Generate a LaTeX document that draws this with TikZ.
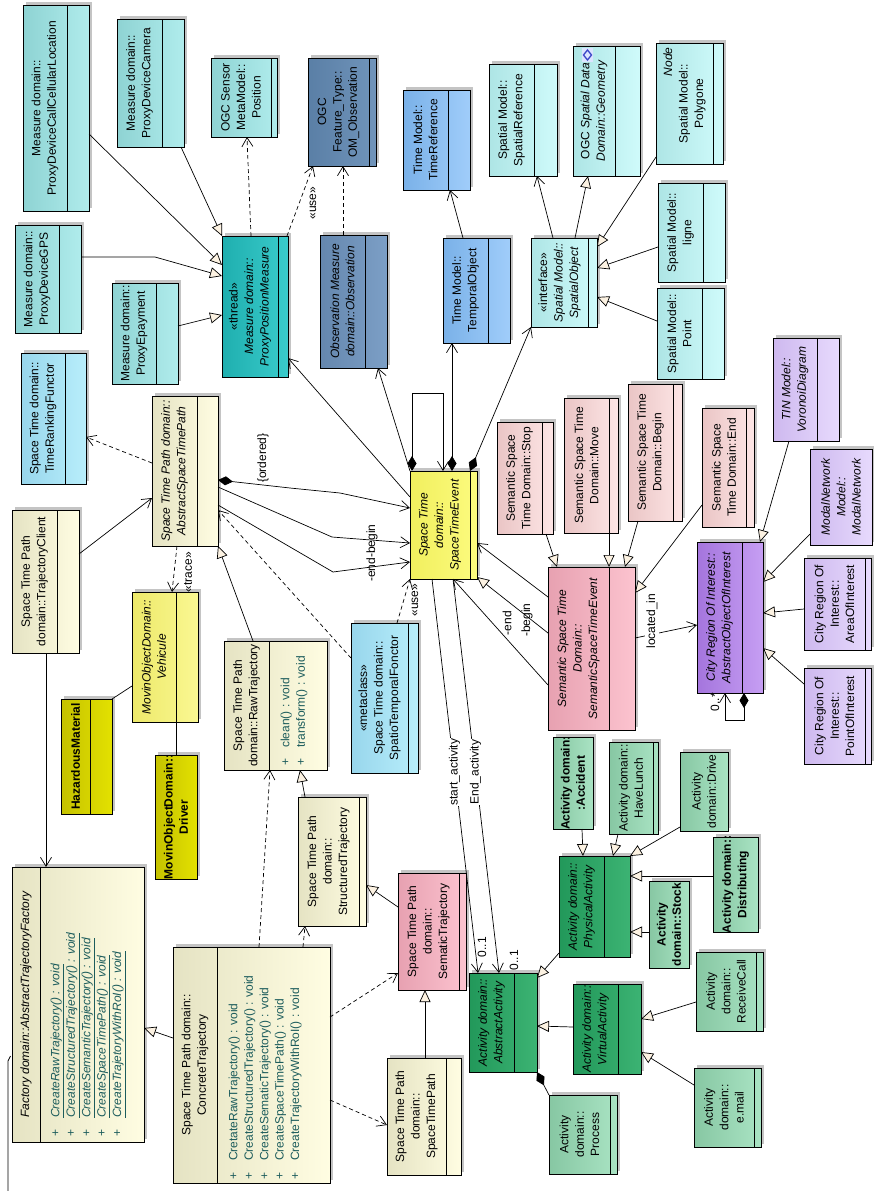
\documentclass[tikz,border=0pt]{standalone}
\usepackage{fontspec}
\setmainfont{Liberation Sans}
\usetikzlibrary{arrows.meta,fit}

\definecolor{measureA}{HTML}{8ED3D3}\definecolor{measureB}{HTML}{B0ECEC}
\definecolor{threadA}{HTML}{1FAFAF}\definecolor{threadB}{HTML}{3ACBCB}
\definecolor{ogcA}{HTML}{5A7FA6}\definecolor{ogcB}{HTML}{7094BA}
\definecolor{obsA}{HTML}{6587AE}\definecolor{obsB}{HTML}{7C9FC6}
\definecolor{timeA}{HTML}{7AB1E8}\definecolor{timeB}{HTML}{A0CDFA}
\definecolor{spatA}{HTML}{AEE5E5}\definecolor{spatB}{HTML}{CFFBFB}
\definecolor{lblueA}{HTML}{98D6EC}\definecolor{lblueB}{HTML}{B8EEFB}
\definecolor{creamA}{HTML}{E5E3C3}\definecolor{creamB}{HTML}{FFFDE2}
\definecolor{vehA}{HTML}{EDE96A}\definecolor{vehB}{HTML}{FAF892}
\definecolor{oliveA}{HTML}{C5C200}\definecolor{oliveB}{HTML}{E3E100}
\definecolor{eventA}{HTML}{F1EF5E}\definecolor{eventB}{HTML}{FCFB7E}
\definecolor{spinkA}{HTML}{EAC5C5}\definecolor{spinkB}{HTML}{FDE5E5}
\definecolor{pinkA}{HTML}{E7A1B1}\definecolor{pinkB}{HTML}{FCC3CF}
\definecolor{purA}{HTML}{A475DD}\definecolor{purB}{HTML}{C69EF3}
\definecolor{lpurA}{HTML}{CEB9EF}\definecolor{lpurB}{HTML}{E7DAFD}
\definecolor{lgreenA}{HTML}{87C7A3}\definecolor{lgreenB}{HTML}{A9E3C3}
\definecolor{greenA}{HTML}{22985A}\definecolor{greenB}{HTML}{3CB373}
\definecolor{shadowgray}{HTML}{C4C4C4}
\definecolor{trifill}{HTML}{FCF2E2}
\definecolor{opcolour}{HTML}{1C5C5C}
\definecolor{iconblue}{HTML}{3C46C8}
\definecolor{iconbg}{HTML}{DCE4FF}

\newcommand\diagfont{\fontsize{12}{15.4}\selectfont}

% class box: name, x1, y1, x2, y2, divider x, colour style, name text
\newcommand\umlbox[8]{%
  \fill[shadowgray] ({#2+3},{#3-3}) rectangle ({#4+3},{#5-3});
  \shade[#7] (#2,#3) rectangle (#4,#5);
  \draw[boxline] (#6,#3) -- (#6,#5);
  \node[boxframe, fit={(#2,#3) (#4,#5)}] (#1) {};
  \node[nametext] (#1-name) at ({(#2+#6)/2},{(#3+#5)/2}) {#8};
}

\begin{document}
\begin{tikzpicture}[x=1pt, y=-1pt,
  boxline/.style={draw=black, line width=0.7pt},
  boxframe/.style={draw=black, line width=0.7pt, inner sep=0pt, outer sep=0pt},
  nametext/.style={rotate=90, align=center, font=\diagfont, inner sep=0pt},
  optext/.style={rotate=90, anchor=north west, font=\diagfont, text=opcolour, inner sep=0pt},
  lbl/.style={rotate=90, font=\diagfont, inner sep=1pt},
  link/.style={draw=black, line width=0.7pt},
  dep/.style={link, dash pattern=on 4pt off 3pt},
  openhead/.style={arrows=-{Straight Barb[length=9pt,width=11pt]}},
  gen/.style={arrows=-{Triangle[length=12pt,width=11pt,fill=trifill]}},
  comp/.style={arrows={Diamond[length=15pt,width=9pt]}-},
  compnav/.style={arrows={Diamond[length=15pt,width=9pt]}-{Straight Barb[length=9pt,width=11pt]}},
  cMeasure/.style={left color=measureA, right color=measureB},
  cThread/.style={left color=threadA, right color=threadB},
  cOgcObs/.style={left color=ogcA, right color=ogcB},
  cObs/.style={left color=obsA, right color=obsB},
  cTime/.style={left color=timeA, right color=timeB},
  cSpatial/.style={left color=spatA, right color=spatB},
  cLightBlue/.style={left color=lblueA, right color=lblueB},
  cCream/.style={left color=creamA, right color=creamB},
  cVehicle/.style={left color=vehA, right color=vehB},
  cOlive/.style={left color=oliveA, right color=oliveB},
  cEvent/.style={left color=eventA, right color=eventB},
  cPinkLight/.style={left color=spinkA, right color=spinkB},
  cPink/.style={left color=pinkA, right color=pinkB},
  cPurple/.style={left color=purA, right color=purB},
  cPurpleLight/.style={left color=lpurA, right color=lpurB},
  cGreenLight/.style={left color=lgreenA, right color=lgreenB},
  cGreen/.style={left color=greenA, right color=greenB}]

\fill[white] (0,0) rectangle (873,1191);
\useasboundingbox (0,0) rectangle (873,1191);

% ---------- measure domain ----------
\umlbox{cell}{23}{5}{89}{211}{67}{cMeasure}{Measure domain::\\ProxyDeviceCallCellularLocation}
\umlbox{cam}{117}{19}{184}{147}{162}{cMeasure}{Measure domain::\\ProxyDeviceCamera}
\umlbox{pos}{211}{58}{277}{137}{271}{cMeasure}{OGC Sensor\\MetaModel::\\Position}
\umlbox{gps}{15}{225}{81}{333}{59}{cMeasure}{Measure domain::\\ProxyDeviceGPS}
\umlbox{epay}{112}{283}{178}{384}{156}{cMeasure}{Measure domain::\\ProxyEpayment}
\umlbox{ppm}{222}{236}{288}{377}{278}{cThread}{«thread»\\\textit{Measure domain::}\\\textit{ProxyPositionMeasure}}
\umlbox{omobs}{308}{58}{376}{166}{369}{cOgcObs}{OGC\\Feature\_Type::\\OM\_Observation}
\umlbox{obs}{320}{235}{387}{368}{365}{cObs}{\textit{Observation Measure}\\\textit{domain::Observation}}

% ---------- time and spatial models ----------
\umlbox{tref}{403}{90}{470}{190}{448}{cTime}{Time Model::\\TimeReference}
\umlbox{tobj}{443}{238}{510}{343}{488}{cTime}{Time Model::\\TemporalObject}
\umlbox{sref}{489}{64}{557}{176}{534}{cSpatial}{Spatial Model::\\SpatialReference}
\umlbox{sobj}{531}{238}{597}{327}{588}{cSpatial}{«interface»\\\textit{Spatial Model::}\\\textit{SpatialObject}}
\umlbox{geom}{573}{46}{640}{176}{615}{cSpatial}{OGC \textit{Spatial Data}\\\textit{Domain::Geometry}}
\fill[iconbg] (582,48) rectangle (593,62);
\draw[iconblue, line width=1.3pt] (587.5,50) -- (591.5,55) -- (587.5,60) -- (583.5,55) -- cycle;
\umlbox{poly}{656}{43}{723}{164}{713}{cSpatial}{\makebox[112pt][r]{\textit{Node}}\\Spatial Model::\\Polygone}
\umlbox{ligne}{658}{183}{725}{282}{703}{cSpatial}{Spatial Model::\\ligne}
\umlbox{point}{657}{288}{724}{379}{702}{cSpatial}{Spatial Model::\\Point}

% ---------- space time path ----------
\umlbox{trf}{21}{353}{86}{484}{65}{cLightBlue}{Space Time domain::\\TimeRankingFunctor}
\umlbox{astp}{152}{396}{218}{546}{197}{cCream}{\textit{Space Time Path domain::}\\\textit{AbstractSpaceTimePath}}
\umlbox{tclient}{12}{510}{79}{653}{57}{cCream}{Space Time Path\\domain::TrajectoryClient}
\umlbox{veh}{132}{592}{198}{722}{176}{cVehicle}{\textit{MovinObjectDomain::}\\\textit{Vehicule}}
\umlbox{haz}{61}{699}{112}{814}{90}{cOlive}{\textbf{HazardousMaterial}}
\umlbox{driver}{155}{755}{197}{879}{197}{cOlive}{\textbf{MovinObjectDomain::}\\\textbf{Driver}}
\umlbox{raw}{224}{641}{327}{770}{269}{cCream}{Space Time Path\\domain::RawTrajectory}
\node[optext] (raw-ops) at (278.5,766) {\begin{tabular}{@{}l@{\hspace{11pt}}l@{}}+ & clean() : void\\+ & transform() : void\end{tabular}};
\umlbox{stf}{351}{623}{418}{773}{408}{cLightBlue}{«metaclass»\\Space Time domain::\\SpatioTemporalFonctor}
\umlbox{struct}{298}{797}{366}{926}{359}{cCream}{Space Time Path\\domain::\\StructuredTrajectory}
\umlbox{sema}{398}{873}{466}{990}{459}{cPink}{Space Time Path\\domain::\\SematicTrajectory}
\umlbox{stp}{387}{1058}{461}{1175}{446}{cCream}{Space Time Path\\domain::\\SpaceTimePath}
\umlbox{conc}{173}{947}{330}{1183}{217}{cCream}{Space Time Path domain::\\ConcreteTrajectory}
\node[optext] (conc-ops) at (226.5,1180) {\begin{tabular}{@{}l@{\hspace{12pt}}l@{}}+ & CretateRawTrajectory() : void\\+ & CreateStructuredTrajectory() : void\\+ & CreateSematicTrajectory() : void\\+ & CreateSpaceTimePath() : void\\+ & CreateTrajectoryWithRoI() : void\end{tabular}};
\umlbox{fact}{12}{867}{144}{1142}{40}{cCream}{\textit{Factory domain::AbstractTrajectoryFactory}}
\node[optext] (fact-ops) at (48.5,1137) {\begin{tabular}{@{}l@{\hspace{12pt}}l@{}}+ & \underline{\textit{CreateRawTrajectory() : void}}\\+ & \underline{\textit{CreateStructuredTrajectory() : void}}\\+ & \underline{\textit{CreateSemanticTrajectory() : void}}\\+ & \underline{\textit{CreateSpaceTimePath() : void}}\\+ & \underline{\textit{CreateTrajetoryWithRoI() : void}}\end{tabular}};

% ---------- events ----------
\umlbox{ste}{410}{471}{477}{579}{470}{cEvent}{\textit{Space Time}\\\textit{domain::}\\\textit{SpaceTimeEvent}}
\umlbox{stop}{497}{422}{553}{534}{542}{cPinkLight}{Semantic Space\\Time Domain::Stop}
\umlbox{move}{564}{398}{618}{533}{609}{cPinkLight}{Semantic Space Time\\Domain::Move}
\umlbox{begin}{628}{384}{682}{521}{673}{cPinkLight}{Semantic Space Time\\Domain::Begin}
\umlbox{endn}{702}{408}{754}{527}{746}{cPinkLight}{Semantic Space\\Time Domain::End}
\umlbox{sste}{548}{567}{635}{730}{609}{cPink}{\textit{Semantic Space Time}\\\textit{Domain::}\\\textit{SemanticSpaceTimeEvent}}

% ---------- city regions ----------
\umlbox{voro}{773}{338}{839}{441}{817}{cPurpleLight}{\textit{TIN Model::}\\\textit{VoronoiDiagram}}
\umlbox{aoi}{697}{542}{763}{693}{742}{cPurple}{\textit{City Region Of Interest::}\\\textit{AbstractObjectOfInterest}}
\umlbox{modal}{810}{449}{872}{545}{872}{cPurpleLight}{\textit{ModalNetwork}\\\textit{Model::}\\\textit{ModalNetwork}}
\umlbox{area}{804}{558}{871}{650}{865}{cPurpleLight}{City Region Of\\Interest::\\AreaOfInterest}
\umlbox{poi}{804}{668}{871}{764}{865}{cPurpleLight}{City Region Of\\Interest::\\PointOfInterest}

% ---------- activities ----------
\umlbox{acc}{553}{737}{593}{829}{593}{cGreenLight}{\textbf{Activity domain:}\\\textbf{:Accident}}
\umlbox{lunch}{609}{742}{658}{834}{653}{cGreenLight}{Activity domain::\\HaveLunch}
\umlbox{drive}{680}{752}{728}{831}{728}{cGreenLight}{Activity\\domain::Drive}
\umlbox{phys}{559}{856}{630}{957}{604}{cGreen}{\textit{Activity domain::}\\\textit{PhysicalActivity}}
\umlbox{dist}{713}{837}{758}{932}{758}{cGreenLight}{\textbf{Activity domain::}\\\textbf{Distributing}}
\umlbox{stock}{649}{881}{689}{968}{689}{cGreenLight}{\textbf{Activity}\\\textbf{domain::Stock}}
\umlbox{rcall}{696}{952}{763}{1031}{756}{cGreenLight}{Activity\\domain::\\ReceiveCall}
\umlbox{email}{694}{1068}{761}{1147}{754}{cGreenLight}{Activity\\domain::\\e.mail}
\umlbox{virt}{573}{984}{641}{1074}{618}{cGreen}{\textit{Activity domain::}\\\textit{VirtualActivity}}
\umlbox{proc}{549}{1095}{617}{1174}{610}{cGreenLight}{Activity\\domain::\\Process}
\umlbox{aact}{469}{973}{537}{1072}{514}{cGreen}{\textit{Activity domain::}\\\textit{AbstractActivity}}

% ---------- connectors: measure ----------
\draw[link,gen] (cell.east |- 0,134) -- (ppm.west |- 0,265);
\draw[link,gen] (cam.south -| 181,0) -- (ppm.north west);
\draw[link,gen] (gps.east |- 0,257) -- (155,257) -- (ppm.west |- 0,276);
\draw[link,gen] (epay.east |- 0,326) -- (ppm.west |- 0,315);
\draw[dep,openhead] (ppm.north -| 251,0) -- (pos.south -| 247,0);
\draw[dep,openhead] (ppm.north -| 287,0) -- (omobs.south -| 313,0);
\node[lbl] (lUseObs) at (313,203) {«use»};
\draw[dep,openhead] (obs.north -| 343,0) -- (omobs.south -| 343,0);

% ---------- connectors: space time event ----------
\draw[link,openhead] (ste.west |- 0,497) -- (ppm.east |- 0,358);
\draw[link,openhead] (ste.north west) -- (obs.south -| 378,0);
\draw[link,compnav] (ste.north -| 412,0) -- (412,393) -- (443,393) -- (ste.north -| 443,0);
\draw[link,compnav] (ste.north -| 452,0) -- (tobj.south -| 452,0);
\draw[link,compnav] (ste.north -| 470,0) -- (sobj.south west);
\draw[link,openhead] (tobj.north -| 463,0) -- (tref.south -| 450,0);
\draw[link,openhead] (sobj.north -| 553,0) -- (sref.south -| 537,0);
\draw[link,gen] (sobj.north -| 575,0) -- (geom.south -| 588,0);
\draw[link,gen] (poly.west |- 0,157) -- (sobj.east |- 0,247);
\draw[link,gen] (ligne.west |- 0,247) -- (sobj.east |- 0,268);
\draw[link,gen] (point.west |- 0,321) -- (sobj.east |- 0,297);

% ---------- connectors: space time path ----------
\draw[dep,openhead] (astp.west |- 0,463) -- (trf.east |- 0,437);
\draw[link,openhead] (tclient.east |- 0,554) -- (astp.west |- 0,498);
\draw[dep,openhead] (astp.south -| 177,0) -- (veh.north -| 172,0);
\node[lbl] (lTrace) at (188,572) {«trace»};
\draw[link,gen] (raw.north -| 253,0) -- (astp.south east);
\draw[link,compnav] (astp.east |- 0,480) -- (290,488) -- (340,493) -- (ste.west |- 0,508);
\node[lbl] (lOrdered) at (263,458) {\{ordered\}};
\draw[link,openhead] (astp.east |- 0,487) -- (332,537) -- (ste.west |- 0,543);
\draw[link,openhead] (astp.east |- 0,505) -- (333,572) -- (ste.west |- 0,562);
\node[lbl] (lEndBegin) at (372,553) {-end-begin};
\draw[dep,openhead] (stf.west |- 0,658) -- (astp.east |- 0,510);
\draw[dep,openhead] (stf.north -| 397,0) -- (ste.south west);
\node[lbl] (lUseStf) at (415,600) {«use»};
\draw[link] (veh.west |- 0,686) -- (haz.north east);
\draw[link] (veh.south -| 176,0) -- (driver.north -| 176,0);
\draw[link,openhead] (tclient.south -| 46,0) -- (fact.north -| 46,0);
\draw[link,gen] (conc.west |- 0,1038) -- (fact.east |- 0,1028);
\draw[dep,openhead] (conc.north -| 259,0) -- (raw.south -| 270,0);
\draw[dep,openhead] (conc.north -| 303,0) -- (struct.south -| 305,0);
\draw[dep,openhead] (conc.east |- 0,1017) -- (sema.west |- 0,973);
\draw[dep,openhead] (conc.east |- 0,1100) -- (stp.west |- 0,1125);
\draw[link,gen] (sema.west |- 0,907) -- (struct.east |- 0,885);
\draw[link,gen] (stp.north -| 425,0) -- (sema.south -| 425,0);
\draw[link,gen] (struct.north -| 305,0) -- (raw.south -| 300,0);
\coordinate (edgeTop) at (8,1061);
\coordinate (edgeBottom) at (8,1191);
\draw[link] (10.5,1056) -- (edgeTop) -- (edgeBottom);

% ---------- connectors: events and activities ----------
\draw[link,openhead] (ste.south -| 432,0) -- node[lbl, fill=white, pos=0.49] (lStart) {start\_activity} (aact.north -| 478,0);
\draw[link,openhead] (ste.south -| 453,0) -- node[lbl, fill=white, pos=0.49] (lEndAct) {End\_activity} (aact.north -| 499,0);
\node[lbl] (lZeroOneA) at (482,947) {0..1};
\node[lbl] (lZeroOneB) at (514,960) {0..1};
\draw[link,openhead] (sste.west |- 0,685) -- (ste.south -| 453,0);
\draw[link,openhead] (sste.west |- 0,597) -- (ste.east |- 0,543);
\draw[link,gen] (sste.west |- 0,633) -- (ste.east |- 0,577);
\node[lbl] (lEndRole) at (507,623) {-end};
\node[lbl] (lBeginRole) at (527,620) {-begin};
\draw[link,gen] (stop.south -| 546,0) -- (sste.north -| 557,0);
\draw[link,gen] (move.south -| 609,0) -- (sste.north -| 609,0);
\draw[link,gen] (begin.south -| 638,0) -- (sste.north -| 625,0);
\draw[link,gen] (endn.west |- 0,505) -- (sste.east |- 0,593);
\draw[link,openhead] (sste.east |- 0,638) -- (aoi.west |- 0,625);
\node[lbl, fill=white] (lLocated) at (652,621) {located\_in};
\draw[link,compnav] (aoi.south -| 744,0) -- (744,720) -- (725,720) -- (aoi.south -| 725,0);
\node[lbl] (lMany) at (715,702) {0..*};
\draw[link,gen] (voro.south -| 789,0) -- (aoi.north -| 760,0);
\draw[link,gen] (modal.west |- 0,534) -- (aoi.east |- 0,582);
\draw[link,gen] (area.west |- 0,609) -- (aoi.east |- 0,613);
\draw[link,gen] (poi.west |- 0,684) -- (aoi.east |- 0,648);
\draw[link,gen] (acc.south -| 582,0) -- (phys.north -| 583,0);
\draw[link,gen] (lunch.south -| 618,0) -- (phys.north -| 613,0);
\draw[link,gen] (drive.west |- 0,827) -- (phys.north east);
\draw[link,gen] (dist.west |- 0,876) -- (phys.east |- 0,876);
\draw[link,gen] (stock.west |- 0,932) -- (phys.east |- 0,932);
\draw[link,gen] (phys.west |- 0,953) -- (aact.east |- 0,978);
\draw[link,gen] (virt.west |- 0,1027) -- (aact.east |- 0,1026);
\draw[link,gen] (rcall.west |- 0,1002) -- (virt.east |- 0,1019);
\draw[link,gen] (email.west |- 0,1085) -- (virt.east |- 0,1052);
\draw[link,comp] (aact.south east) -- (proc.north west);

\end{tikzpicture}
\end{document}
